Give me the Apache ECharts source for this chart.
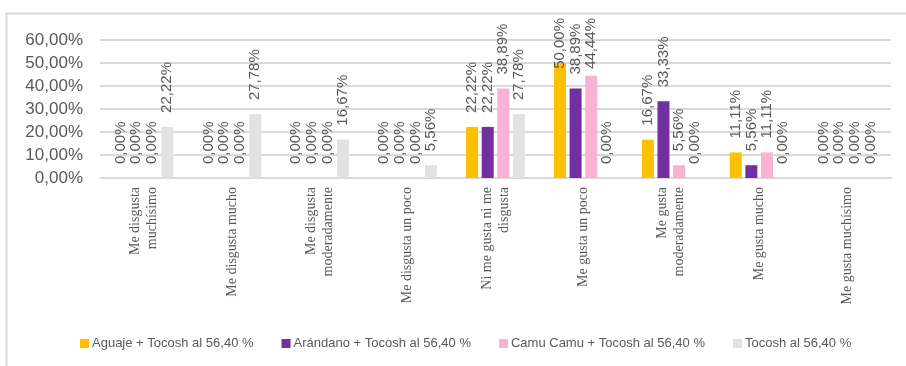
<!DOCTYPE html>
<html>
<head>
<meta charset="utf-8">
<script src="https://cdn.jsdelivr.net/npm/echarts@6/dist/echarts.min.js"></script>
<style>
  html, body { margin: 0; padding: 0; background: #ffffff; }
  #chart { width: 906px; height: 366px; }
</style>
</head>
<body>
<div id="chart"></div>
<script>
// Hedonic scale categories (line breaks as shown under the axis)
const categories = [
  'Me disgusta\nmuchísimo',
  'Me disgusta mucho',
  'Me disgusta\nmoderadamente',
  'Me disgusta un poco',
  'Ni me gusta ni me\ndisgusta',
  'Me gusta un poco',
  'Me gusta\nmoderadamente',
  'Me gusta mucho',
  'Me gusta muchísimo'
];

// Percentage of panelists per category, one array per formulation
const aguaje   = [0, 0, 0, 0, 22.22, 50.00, 16.67, 11.11, 0];
const arandano = [0, 0, 0, 0, 22.22, 38.89, 33.33, 5.56, 0];
const camuCamu = [0, 0, 0, 0, 38.89, 44.44, 5.56, 11.11, 0];
const tocosh   = [22.22, 27.78, 16.67, 5.56, 27.78, 0, 0, 0, 0];

const seriesNames = [
  'Aguaje + Tocosh al 56,40 %',
  'Arándano + Tocosh al 56,40 %',
  'Camu Camu + Tocosh al 56,40 %',
  'Tocosh al 56,40 %'
];

const yTicks = { min: 0, max: 60, interval: 10 };

const colors = ['#FFC000', '#7030A0', '#F9B1D4', '#E2E2E2'];
const textGray = '#595959';
const labelFont = '15px "Liberation Sans"';
const labelGap = 14;      // normal gap between bar end and its label
const frameTop = 18;      // labels never rise above this line

const fmt = v => v.toFixed(2).replace('.', ',') + '%';

const measureCtx = document.createElement('canvas').getContext('2d');
function textLength(str) {
  measureCtx.font = labelFont;
  return measureCtx.measureText(str).width;
}

function barSeries(name, data, color) {
  return {
    name: name,
    type: 'bar',
    data: data,
    barWidth: 12,
    barGap: '30%',
    itemStyle: { color: color },
    label: {
      show: true,
      position: 'top',
      rotate: 90,
      align: 'left',
      verticalAlign: 'middle',
      distance: labelGap,
      color: textGray,
      fontFamily: 'Liberation Sans',
      fontSize: 15,
      formatter: p => fmt(p.value)
    }
  };
}

const seriesData = [aguaje, arandano, camuCamu, tocosh];

const chart = echarts.init(document.getElementById('chart'), null, { renderer: 'canvas' });

chart.setOption({
  animation: false,
  backgroundColor: '#ffffff',
  graphic: [{
    type: 'rect',
    shape: { x: 6.5, y: 13.5, width: 940, height: 400 },
    style: { fill: 'none', stroke: '#D9D9D9', lineWidth: 2 },
    silent: true
  }],
  grid: { left: 100, right: 15, top: 40, bottom: 188, containLabel: false },
  legend: {
    left: 80,
    top: 337,
    padding: 0,
    icon: 'rect',
    itemWidth: 9,
    itemHeight: 9,
    itemGap: 28,
    textStyle: { color: textGray, fontFamily: 'Liberation Sans', fontSize: 13, padding: [0, 0, 0, -2] },
    data: seriesNames
  },
  xAxis: {
    type: 'category',
    data: categories,
    axisLine: { lineStyle: { color: '#D9D9D9', width: 2 } },
    axisTick: { show: false },
    axisLabel: {
      rotate: 90,
      interval: 0,
      margin: 9,
      color: textGray,
      fontFamily: 'Liberation Serif',
      fontSize: 14,
      lineHeight: 17
    }
  },
  yAxis: {
    type: 'value',
    min: yTicks.min,
    max: yTicks.max,
    interval: yTicks.interval,
    axisLine: { show: false },
    axisTick: { show: false },
    splitLine: { lineStyle: { color: '#D9D9D9', width: 2 } },
    axisLabel: {
      margin: 17,
      color: textGray,
      fontFamily: 'Liberation Sans',
      fontSize: 17,
      formatter: v => fmt(v)
    }
  },
  series: seriesData.map((d, i) => barSeries(seriesNames[i], d, colors[i]))
});

// Tall bars: pull the label down so it stays inside the frame
chart.setOption({
  series: seriesData.map(d => ({
    data: d.map(v => {
      const barTop = chart.convertToPixel({ yAxisIndex: 0 }, v);
      const room = barTop - frameTop - textLength(fmt(v));
      const dist = Math.min(labelGap, room);
      return dist < labelGap ? { value: v, label: { distance: dist } } : v;
    })
  }))
});
</script>
</body>
</html>
